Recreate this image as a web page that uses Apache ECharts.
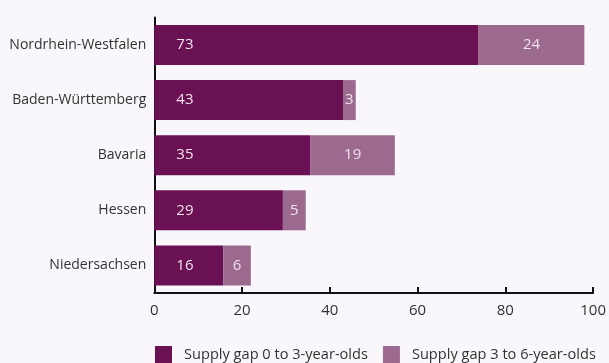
<!DOCTYPE html>
<html>
<head>
<meta charset="utf-8">
<script src="https://cdn.jsdelivr.net/npm/echarts@6/dist/echarts.min.js"></script>
<style>
html,body{margin:0;padding:0;background:#f9f7fb;}
#chart{width:609px;height:363px;}
</style>
</head>
<body>
<div id="chart"></div>
<script>
const categories = ["Nordrhein-Westfalen", "Baden-Württemberg", "Bavaria", "Hessen", "Niedersachsen"];
const gap0to3 = [73.9, 43.0, 35.6, 29.3, 15.7];
const gap3to6 = [24.1, 2.9, 19.2, 5.2, 6.3];
const gap0to3Labels = [73, 43, 35, 29, 16];
const gap3to6Labels = [24, 3, 19, 5, 6];
const seriesNames = ["Supply gap 0 to 3-year-olds", "Supply gap 3 to 6-year-olds"];
const xTicks = [0, 20, 40, 60, 80, 100];

const font = "'Open Sans', 'Noto Sans', sans-serif";
const chart = echarts.init(document.getElementById('chart'));
chart.setOption({
  backgroundColor: '#f9f7fb',
  animation: false,
  textStyle: { fontFamily: font },
  grid: { left: 154.3, right: 11.3, top: 17.4, bottom: 70 },
  legend: {
    bottom: -1,
    left: 155,
    padding: 0,
    itemWidth: 17,
    itemHeight: 18,
    itemGap: 15,
    icon: 'rect',
    textStyle: { fontSize: 14.6, color: '#333', fontFamily: font, padding: [0, 0, 0, 7] },
    data: seriesNames
  },
  xAxis: {
    type: 'value',
    min: xTicks[0],
    max: xTicks[xTicks.length - 1],
    interval: 20,
    splitLine: { show: false },
    axisLine: { show: true, lineStyle: { color: '#111', width: 2 } },
    axisTick: { show: true, inside: true, length: 6, lineStyle: { color: '#111', width: 2 } },
    axisLabel: { fontSize: 15, color: '#333', margin: 10, fontFamily: font }
  },
  yAxis: {
    type: 'category',
    inverse: true,
    data: categories,
    axisLine: { show: true, lineStyle: { color: '#111', width: 2 } },
    axisTick: { show: false },
    axisLabel: { fontSize: 14, color: '#333', margin: 8, fontFamily: font }
  },
  series: [
    {
      name: seriesNames[0],
      type: 'bar',
      stack: 'gap',
      barWidth: 40,
      itemStyle: { color: '#6a1153' },
      label: {
        show: true,
        position: 'insideLeft',
        distance: 22,
        color: '#f1e2ec',
        fontSize: 15,
        fontFamily: font,
        formatter: p => gap0to3Labels[p.dataIndex]
      },
      data: gap0to3
    },
    {
      name: seriesNames[1],
      type: 'bar',
      stack: 'gap',
      barWidth: 40,
      itemStyle: { color: '#9c6a8e' },
      label: {
        show: true,
        position: 'inside',
        color: '#f1e2ec',
        fontSize: 15,
        fontFamily: font,
        formatter: p => gap3to6Labels[p.dataIndex]
      },
      data: gap3to6
    }
  ]
});
</script>
</body>
</html>
